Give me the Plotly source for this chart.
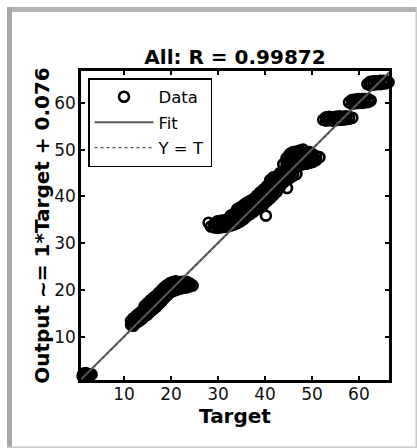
import plotly.graph_objects as go

# ---------------- data ----------------
TITLE = "All: R = 0.99872"
X_LABEL = "Target"
Y_LABEL = "Output ~= 1*Target + 0.076"
FIT_SLOPE = 1.0
FIT_OFFSET = 0.076
X_RANGE = [0.85, 66.4]
Y_RANGE = [0.8, 66.8]
TICKS = [10, 20, 30, 40, 50, 60]

cluster_a = [(1.2, 1.6), (1.6, 1.9), (2.0, 1.7), (2.5, 2.0), (1.4, 2.2), (2.2, 1.5),
             (2.8, 1.8), (1.9, 2.3), (3.1, 2.0), (1.3, 1.9)]

cluster_b = [(11.5, 12.6), (11.5, 13.4),
             (12.0, 12.4), (12.0, 13.2), (12.0, 14.0),
             (12.6, 13.0), (12.6, 13.8), (12.6, 14.5),
             (13.2, 13.4), (13.2, 14.2), (13.2, 15.0),
             (13.8, 13.8), (13.8, 14.6), (13.8, 15.5),
             (14.4, 14.4), (14.4, 15.2), (14.4, 16.0), (14.4, 16.6),
             (15.0, 14.8), (15.0, 15.6), (15.0, 16.4), (15.0, 17.2),
             (15.6, 15.4), (15.6, 16.2), (15.6, 17.0), (15.6, 17.8),
             (16.2, 15.9), (16.2, 16.7), (16.2, 17.5), (16.2, 18.3),
             (16.8, 16.4), (16.8, 17.2), (16.8, 18.0), (16.8, 18.8),
             (17.4, 17.0), (17.4, 17.8), (17.4, 18.6), (17.4, 19.4),
             (18.0, 17.6), (18.0, 18.4), (18.0, 19.2), (18.0, 20.0),
             (18.6, 18.3), (18.6, 19.1), (18.6, 19.9), (18.6, 20.6),
             (19.2, 18.9), (19.2, 19.7), (19.2, 20.4), (19.2, 21.1),
             (19.8, 19.5), (19.8, 20.2), (19.8, 20.9), (19.8, 21.5),
             (20.4, 19.8), (20.4, 20.5), (20.4, 21.2), (20.4, 21.7),
             (21.0, 20.0), (21.0, 20.7), (21.0, 21.4), (21.0, 21.9),
             (21.6, 20.2), (21.6, 20.9), (21.6, 21.6),
             (22.2, 20.4), (22.2, 21.1), (22.2, 21.8),
             (22.8, 20.5), (22.8, 21.2), (22.8, 21.8),
             (23.4, 20.6), (23.4, 21.3), (23.4, 21.7),
             (24.0, 20.8), (24.0, 21.4), (24.6, 21.0)]

cluster_c = [(28.0, 34.4), (28.5, 33.6), (29.2, 33.4), (29.2, 34.2),
             (29.9, 33.3), (29.9, 34.0), (29.9, 34.7),
             (30.6, 33.4), (30.6, 34.1), (30.6, 34.8),
             (31.3, 33.5), (31.3, 34.2), (31.3, 34.9),
             (32.0, 33.6), (32.0, 34.3), (32.0, 35.0),
             (32.7, 33.8), (32.7, 34.5), (32.7, 35.2), (32.7, 35.9),
             (33.4, 34.0), (33.4, 34.7), (33.4, 35.5), (33.4, 36.3),
             (34.1, 34.3), (34.1, 35.0), (34.1, 35.8), (34.1, 36.6), (34.1, 37.3),
             (34.8, 34.7), (34.8, 35.4), (34.8, 36.2), (34.8, 37.0), (34.8, 37.7),
             (35.5, 35.2), (35.5, 35.9), (35.5, 36.7), (35.5, 37.5), (35.5, 38.2),
             (36.2, 35.8), (36.2, 36.5), (36.2, 37.3), (36.2, 38.0), (36.2, 38.7),
             (36.9, 36.3), (36.9, 37.0), (36.9, 37.8), (36.9, 38.5), (36.9, 39.1),
             (37.6, 36.8), (37.6, 37.5), (37.6, 38.3), (37.6, 39.0), (37.6, 39.5),
             (38.3, 37.3), (38.3, 38.0), (38.3, 38.8), (38.3, 39.5), (38.3, 40.2),
             (39.0, 37.8), (39.0, 38.5), (39.0, 39.3), (39.0, 40.1), (39.0, 40.9),
             (39.7, 38.3), (39.7, 39.1), (39.7, 39.9), (39.7, 40.7), (39.7, 41.5),
             (40.4, 39.0), (40.4, 39.8), (40.4, 40.6), (40.4, 41.4), (40.4, 42.2),
             (41.1, 39.6), (41.1, 40.4), (41.1, 41.2), (41.1, 42.0), (41.1, 42.8), (41.1, 43.5),
             (41.8, 40.3), (41.8, 41.1), (41.8, 41.9), (41.8, 42.7), (41.8, 43.5), (41.8, 44.1),
             (42.5, 41.0), (42.5, 41.8), (42.5, 42.6), (42.5, 43.4), (42.5, 44.2),
             (43.2, 42.0), (43.2, 42.8), (43.2, 43.6), (43.2, 44.4), (43.2, 45.0),
             (43.9, 43.0), (43.9, 43.8), (43.9, 44.5), (43.9, 45.2), (43.9, 46.9),
             (44.6, 43.6), (44.6, 44.3), (44.6, 45.0), (44.6, 46.6), (44.6, 47.4), (44.6, 48.2),
             (45.3, 44.0), (45.3, 44.7), (45.3, 45.3), (45.3, 46.8), (45.3, 47.6), (45.3, 48.4), (45.3, 49.1),
             (46.0, 44.4), (46.0, 45.0), (46.0, 46.4), (46.0, 47.2), (46.0, 48.0), (46.0, 48.8), (46.0, 49.5),
             (46.7, 44.8), (46.7, 46.5), (46.7, 47.3), (46.7, 48.1), (46.7, 48.9), (46.7, 49.6),
             (47.4, 46.7), (47.4, 47.5), (47.4, 48.3), (47.4, 49.1), (47.4, 49.8),
             (48.1, 46.9), (48.1, 47.7), (48.1, 48.5), (48.1, 49.3), (48.1, 50.0),
             (48.8, 47.0), (48.8, 47.8), (48.8, 48.6), (48.8, 49.4),
             (49.5, 47.2), (49.5, 48.0), (49.5, 48.8), (49.5, 49.5),
             (50.2, 47.4), (50.2, 48.2), (50.2, 49.0),
             (50.9, 47.8), (50.9, 48.6), (51.6, 48.4),
             (40.2, 35.9), (44.7, 41.8)]

cluster_d = [(52.4, 56.4), (53.0, 56.2), (53.0, 56.9), (53.7, 56.3), (53.7, 57.0),
             (54.4, 56.2), (54.4, 56.9), (55.1, 56.3), (55.1, 57.0), (55.8, 56.4),
             (55.8, 57.1), (56.5, 56.4), (56.5, 57.0), (57.2, 56.5), (57.2, 57.1),
             (57.9, 56.6), (57.9, 57.0), (58.6, 56.8)]

cluster_e = [(57.9, 60.1), (58.5, 59.8), (58.5, 60.6), (59.2, 59.9), (59.2, 60.7),
             (59.9, 60.0), (59.9, 60.8), (60.6, 60.0), (60.6, 60.8), (61.3, 60.1),
             (61.3, 60.8), (62.0, 60.2), (62.0, 60.8), (62.5, 60.5)]

cluster_f = [(61.8, 64.0), (62.4, 63.8), (62.4, 64.5), (63.1, 63.9), (63.1, 64.6),
             (63.8, 64.0), (63.8, 64.6), (64.5, 64.0), (64.5, 64.7), (65.2, 64.1),
             (65.2, 64.7), (65.9, 64.2), (65.9, 64.6), (66.3, 64.4)]

# ---------------- figure ----------------
W, H = 417, 448
L, R, T, B = 81, 28, 71, 68
PW, PH = W - L - R, H - T - B
FONT = "DejaVu Sans"


def px_x(px):
    return (px - L) / PW


def px_y(py):
    return (H - B - py) / PH


points = cluster_a + cluster_b + cluster_c + cluster_d + cluster_e + cluster_f
targets = [p[0] for p in points]
outputs = [p[1] for p in points]

line_x = X_RANGE
fit_y = [FIT_SLOPE * v + FIT_OFFSET for v in line_x]
yt_y = list(line_x)

fig = go.Figure()
fig.add_trace(go.Scatter(
    x=targets, y=outputs, mode="markers", name="Data", legendgroup="d",
    cliponaxis=False,
    marker=dict(symbol="circle-open", size=10, color="black", line=dict(width=2.6, color="black")),
))
fig.add_trace(go.Scatter(
    x=line_x, y=fit_y, mode="lines", name="Fit", legendgroup="f",
    line=dict(color="#5a5a5a", width=2),
))
fig.add_trace(go.Scatter(
    x=line_x, y=yt_y, mode="lines", name="Y = T", legendgroup="y",
    line=dict(color="#4a4a4a", width=1.4, dash="dot"),
))

axis_common = dict(
    showgrid=False, zeroline=False, showline=True, linewidth=2.5, linecolor="black",
    mirror="ticks", ticks="inside", ticklen=4, tickwidth=1.5, tickcolor="black",
    tickvals=TICKS, tickfont=dict(family=FONT, size=17, color="#111"),
)

fig.update_layout(
    width=W, height=H,
    margin=dict(l=L, r=R, t=T, b=B),
    paper_bgcolor="white", plot_bgcolor="white",
    showlegend=True,
    title=dict(text="<b>" + TITLE + "</b>", x=0.5, xref="paper", xanchor="center",
               y=1 - 57 / H, yref="container", yanchor="middle",
               font=dict(family=FONT, size=20, color="black")),
    xaxis=dict(range=X_RANGE, ticklabelstandoff=-3,
               title=dict(text="<b>" + X_LABEL + "</b>", standoff=3,
                          font=dict(family=FONT, size=20, color="black")),
               **axis_common),
    yaxis=dict(range=Y_RANGE, ticklabelstandoff=-1,
               title=dict(text="<b>" + Y_LABEL + "</b>", standoff=0,
                          font=dict(family=FONT, size=20, color="black")),
               **axis_common),
    legend=dict(x=px_x(88), y=px_y(78), xanchor="left", yanchor="top",
                bgcolor="white", bordercolor="black", borderwidth=1.5,
                font=dict(family=FONT, size=16.5, color="black"),
                itemwidth=59, traceorder="grouped", tracegroupgap=1),
)

# grey frame around the figure
frame = [
    (7, 7, 417, 12, "#b4b4b4"),
    (7, 7, 12, 448, "#a8a8a8"),
    (415.5, 7, 417, 448, "#cacaca"),
    (7, 446.5, 417, 448, "#cacaca"),
]
for x0, y0, x1, y1, c in frame:
    fig.add_shape(type="rect", xref="paper", yref="paper",
                  x0=px_x(x0), x1=px_x(x1), y0=px_y(y1), y1=px_y(y0),
                  fillcolor=c, line=dict(width=0), layer="above")

fig.write_html("out.html", config={"displayModeBar": False},
               post_script="document.body.style.margin='0';document.body.style.overflow='hidden';")
